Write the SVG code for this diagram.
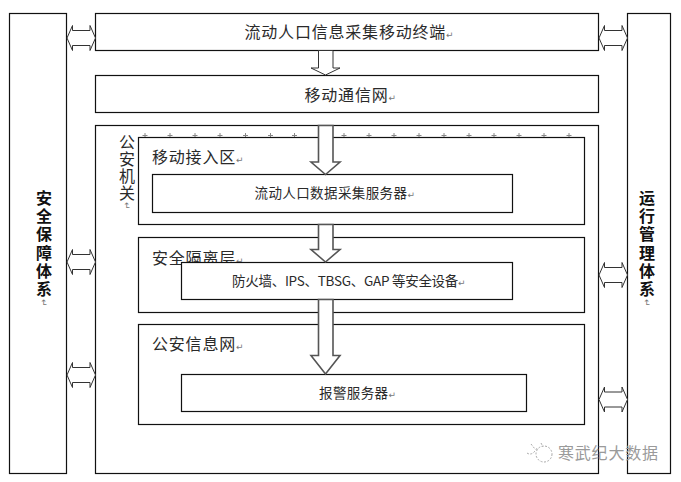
<svg xmlns="http://www.w3.org/2000/svg" width="681" height="482" viewBox="0 0 681 482">
<defs>
<style>
.b{fill:#fff;stroke:#111;stroke-width:1.2}
text{font-family:"Noto Sans CJK SC","Liberation Sans",sans-serif;fill:#2a2a2a}
.l{font-size:16px;letter-spacing:.8px}
.m{font-size:13.5px;letter-spacing:.4px}
.v{font-size:16px;font-weight:700;fill:#111;writing-mode:vertical-rl;letter-spacing:2.2px}
.c{font-size:16px;writing-mode:vertical-rl;letter-spacing:1px}
.r{font-family:"DejaVu Sans",sans-serif;font-size:9px;font-weight:400;fill:#777;letter-spacing:0}
.a{fill:#fff;stroke:#333;stroke-width:1;stroke-linejoin:miter}
.h{fill:#fff;stroke:#555;stroke-width:1.6;stroke-linejoin:miter}
.w{fill:none;stroke:#aaa;stroke-width:1;stroke-dasharray:2 1.500}
.t{fill:none;stroke:#888;stroke-width:1}
</style>
<path id="dbl" d="M0 0L5.500 -12.500V-7.500H23V-12.500L28.500 0L23 12.500V7.500H5.500V12.500Z"/>
<path id="tick" d="M-2.500 .5H2.500M0 -2V3"/>
</defs>

<g id="security">
<rect class="b" x="9.500" y="13.500" width="57" height="460"/>
<text class="v" x="44" y="190">安全保障体系<tspan class="r">↵</tspan></text>
</g>

<g id="operations">
<rect class="b" x="627.500" y="13.500" width="43" height="460"/>
<text class="v" x="647" y="190">运行管理体系<tspan class="r">↵</tspan></text>
</g>

<g id="terminal">
<rect class="b" x="95.500" y="13.500" width="503" height="37"/>
<text class="l" x="244.500" y="38">流动人口信息采集移动终端<tspan class="r">↵</tspan></text>
</g>

<g id="network">
<rect class="b" x="95.500" y="75.500" width="503" height="37"/>
<text class="l" x="304.500" y="101">移动通信网<tspan class="r">↵</tspan></text>
</g>

<g id="police">
<rect class="b" x="95.500" y="125.500" width="503" height="348"/>
<text class="c" x="127" y="134">公安机关<tspan class="r">↵</tspan></text>
<g class="t" id="ticks">
<use href="#tick" x="145" y="135"/><use href="#tick" x="170" y="135"/><use href="#tick" x="195" y="135"/><use href="#tick" x="220" y="135"/><use href="#tick" x="245.500" y="135"/><use href="#tick" x="270.500" y="135"/><use href="#tick" x="294.500" y="135"/><use href="#tick" x="344" y="135"/><use href="#tick" x="369" y="135"/><use href="#tick" x="394" y="135"/><use href="#tick" x="419" y="135"/><use href="#tick" x="444" y="135"/><use href="#tick" x="469" y="135"/><use href="#tick" x="494" y="135"/><use href="#tick" x="519" y="135"/><use href="#tick" x="544" y="135"/><use href="#tick" x="569" y="135"/>
</g>
</g>

<g id="access-zone">
<rect class="b" x="138.500" y="137.500" width="446" height="87"/>
<text class="l" x="152" y="163">移动接入区<tspan class="r">↵</tspan></text>
</g>
<g id="collect-server">
<rect class="b" x="152.500" y="174.500" width="360" height="38"/>
<text class="m" x="254.500" y="198">流动人口数据采集服务器<tspan class="r">↵</tspan></text>
</g>

<g id="isolation-layer">
<rect class="b" x="138.500" y="237.500" width="446" height="75"/>
<text class="l" x="152" y="264">安全隔离层<tspan class="r">↵</tspan></text>
</g>
<g id="security-devices">
<rect class="b" x="181.500" y="262.500" width="331" height="37"/>
<text class="m" x="232" y="286" style="letter-spacing:-.27px">防火墙、IPS、TBSG、GAP 等安全设备<tspan class="r">↵</tspan></text>
</g>

<g id="police-net">
<rect class="b" x="138.500" y="324.500" width="446" height="100"/>
<text class="l" x="152" y="350">公安信息网<tspan class="r">↵</tspan></text>
</g>
<g id="alarm-server">
<rect class="b" x="181.500" y="374.500" width="345" height="37"/>
<text class="m" x="319" y="398">报警服务器<tspan class="r">↵</tspan></text>
</g>

<g id="connectors">
<path class="a" d="M318.500 50.500V68H311L325.500 75L340 68H333V50.500Z"/>
<path class="h" d="M318.500 125.500V162H311L325.500 174.500L340 162H333V125.500Z"/>
<path class="h" d="M318.500 224.500V249.500H311L325.500 262L340 249.500H333V224.500Z"/>
<path class="h" d="M318.500 299.500V355.500H311L325.500 374L340 355.500H333V299.500Z"/>
<use class="a" href="#dbl" x="67" y="38"/>
<use class="a" href="#dbl" x="67" y="262"/>
<use class="a" href="#dbl" x="67" y="375"/>
<use class="a" href="#dbl" x="599" y="38"/>
<use class="a" href="#dbl" x="599" y="275"/>
<use class="a" href="#dbl" x="599" y="399.500"/>
</g>

<g id="watermark">
<path class="w" d="M527 453C531 456 535 452 537 448M531 444L535 449M541 443L543 447"/>
<circle class="w" cx="544" cy="454" r="8"/>
<text x="558" y="459" style="font-size:16px;letter-spacing:.8px;fill:#9a9a9a">寒武纪大数据</text>
</g>
</svg>
